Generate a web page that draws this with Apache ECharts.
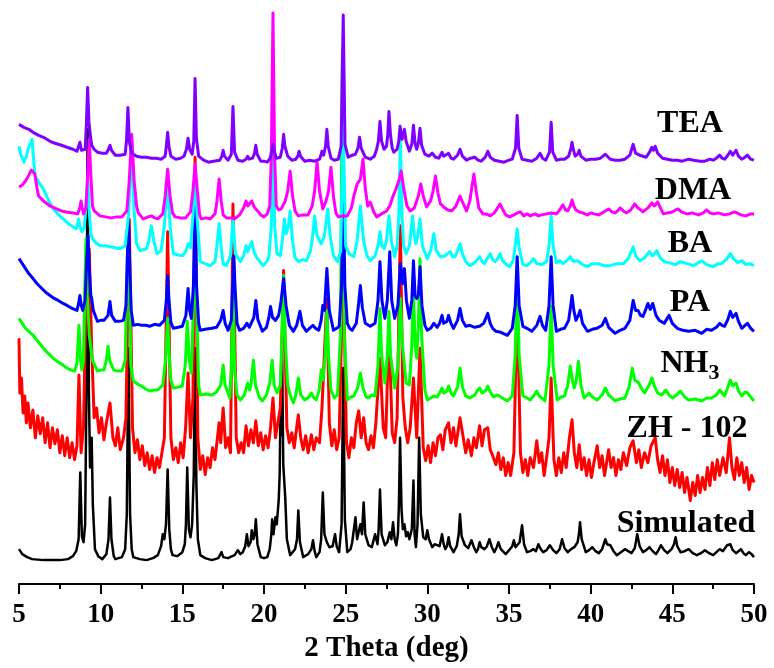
<!DOCTYPE html>
<html>
<head>
<meta charset="utf-8">
<title>PXRD patterns</title>
<script src="https://cdn.jsdelivr.net/npm/echarts@6/dist/echarts.min.js"></script>
<style>
  html, body { margin: 0; padding: 0; background: #ffffff; }
  #chart { width: 774px; height: 668px; }
</style>
</head>
<body>
<div id="chart"></div>
<script>
// Powder XRD patterns, stacked with vertical offsets (intensity in a.u.)
// Each pattern: [2 theta (deg), offset intensity]

const sampleNames = ['TEA', 'DMA', 'BA', 'PA', 'NH3', 'ZH - 102', 'Simulated'];
const sampleColors = ['#7f00ff', '#ff00ff', '#00ffff', '#0000ff', '#00ff00', '#ff0000', '#000000'];
const lineWidths = [3, 3, 3, 3, 3, 3, 2.5];
const xTicks = [5, 10, 15, 20, 25, 30, 35, 40, 45, 50];

const teaPattern = [
  [5.0,462],[5.3,459],[5.6,457],[5.86,454],[6.2,451],[6.5,449],[6.9,445],[7.2,443],[7.6,441],[7.94,439],
  [8.3,437],[8.55,435],[8.65,440],[8.73,444],[8.82,436],[9.05,437],[9.12,460],[9.2,499],[9.28,465],[9.35,454],
  [9.45,441],[9.6,437],[9.8,434],[10.1,433],[10.35,433],[10.48,437],[10.57,441],[10.66,436],[10.9,431],[11.2,431],
  [11.5,432],[11.58,445],[11.67,479],[11.76,444],[11.9,433],[12.2,430],[12.5,429],[12.8,429],[13.1,428],[13.4,428],
  [13.7,427],[13.95,430],[14.02,440],[14.1,454],[14.18,440],[14.3,430],[14.6,427],[14.9,428],[15.1,430],[15.25,437],
  [15.35,448],[15.45,437],[15.6,432],[15.7,445],[15.78,508],[15.86,448],[16.0,430],[16.3,426],[16.6,424],[16.9,425],
  [17.3,426],[17.42,430],[17.5,436],[17.58,430],[17.8,426],[18.0,432],[18.1,480],[18.2,434],[18.4,426],[18.7,425],
  [18.9,427],[19.0,430],[19.1,427],[19.3,428],[19.42,433],[19.5,441],[19.58,432],[19.8,425],[20.0,425],[20.2,424],
  [20.38,428],[20.48,436],[20.55,442],[20.62,436],[20.75,428],[21.0,429],[21.12,438],[21.2,452],[21.28,440],[21.45,430],
  [21.7,426],[21.95,427],[22.07,430],[22.15,435],[22.23,430],[22.5,425],[22.8,426],[23.1,425],[23.4,427],[23.5,432],
  [23.55,435],[23.65,431],[23.77,440],[23.85,457],[23.93,440],[24.1,428],[24.3,426],[24.55,427],[24.72,440],[24.85,572],
  [24.96,442],[25.15,429],[25.4,431],[25.6,432],[25.75,438],[25.85,449],[25.95,438],[26.2,429],[26.5,427],[26.75,430],
  [26.9,437],[27.0,445],[27.1,465],[27.2,445],[27.35,437],[27.5,440],[27.58,452],[27.65,475],[27.74,452],[27.85,438],
  [27.95,434],[28.15,437],[28.25,445],[28.33,460],[28.45,447],[28.6,457],[28.7,445],[28.9,435],[29.05,442],[29.15,461],
  [29.25,443],[29.35,437],[29.45,443],[29.55,458],[29.65,441],[29.85,432],[30.1,430],[30.3,433],[30.5,429],[30.7,428],
  [30.9,434],[31.0,430],[31.1,429],[31.3,433],[31.45,428],[31.6,427],[31.85,431],[32.0,437],[32.15,430],[32.4,426],
  [32.65,428],[32.9,429],[33.1,426],[33.3,425],[33.55,429],[33.7,435],[33.85,429],[34.1,426],[34.4,425],[34.7,424],
  [35.0,426],[35.2,427],[35.4,438],[35.5,471],[35.6,438],[35.8,427],[36.1,426],[36.4,425],[36.7,428],[36.9,433],
  [37.05,428],[37.25,426],[37.48,434],[37.58,464],[37.68,434],[37.9,426],[38.15,427],[38.4,427],[38.65,430],[38.78,437],
  [38.86,444],[38.95,436],[39.05,430],[39.2,432],[39.3,436],[39.4,430],[39.7,426],[40.0,427],[40.3,427],[40.6,428],
  [40.9,432],[41.2,427],[41.5,426],[41.8,426],[42.1,427],[42.4,431],[42.6,442],[42.75,433],[43.0,431],[43.2,430],
  [43.4,429],[43.6,434],[43.75,439],[43.85,436],[43.95,440],[44.1,433],[44.4,428],[44.7,427],[45.0,426],[45.3,426],
  [45.6,425],[46.0,427],[46.3,426],[46.7,425],[47.0,425],[47.3,427],[47.5,426],[47.7,428],[47.9,431],[48.05,428],
  [48.2,427],[48.4,431],[48.55,435],[48.7,431],[48.9,436],[49.05,430],[49.25,427],[49.45,429],[49.6,431],[49.8,427],
  [50.0,426]
];

const dmaPattern = [
  [5.0,399],[5.2,401],[5.4,405],[5.6,411],[5.75,416],[5.86,417],[5.97,412],[6.1,398],[6.2,390],[6.5,385],
  [6.9,380],[7.3,377],[7.6,375],[7.9,374],[8.3,373],[8.6,372],[8.72,378],[8.8,385],[8.88,377],[8.95,372],
  [9.1,378],[9.2,410],[9.3,447],[9.4,410],[9.5,380],[9.6,375],[9.96,370],[10.3,369],[10.6,368],[11.0,369],
  [11.3,369],[11.6,375],[11.75,405],[11.9,452],[12.05,405],[12.2,380],[12.3,373],[12.6,367],[12.9,369],[13.1,370],
  [13.3,368],[13.5,367],[13.8,372],[13.95,390],[14.1,417],[14.25,390],[14.4,373],[14.55,369],[14.9,368],[15.2,368],
  [15.5,374],[15.65,395],[15.78,422],[15.92,395],[16.05,372],[16.15,367],[16.45,368],[16.7,367],[17.0,372],[17.12,385],
  [17.25,407],[17.38,385],[17.5,371],[17.7,368],[18.0,368],[18.2,367],[18.5,371],[18.75,378],[18.9,385],[19.0,380],
  [19.1,379],[19.25,385],[19.4,379],[19.6,375],[19.8,371],[20.0,369],[20.2,372],[20.35,380],[20.45,430],[20.55,574],
  [20.65,430],[20.75,380],[20.9,376],[21.05,377],[21.3,385],[21.45,395],[21.6,415],[21.75,390],[21.9,375],[22.1,370],
  [22.4,371],[22.7,371],[22.95,380],[23.1,395],[23.25,424],[23.4,395],[23.6,377],[23.8,385],[23.95,395],[24.1,419],
  [24.25,390],[24.4,373],[24.55,369],[24.8,370],[25.1,370],[25.35,378],[25.5,390],[25.7,402],[25.9,407],[26.06,427],
  [26.2,398],[26.35,380],[26.5,384],[26.6,382],[26.75,373],[26.9,369],[27.2,372],[27.5,375],[27.7,380],[27.9,390],
  [28.1,398],[28.25,405],[28.4,415],[28.55,398],[28.75,380],[28.95,375],[29.2,378],[29.45,390],[29.6,402],[29.75,390],
  [29.95,379],[30.2,385],[30.35,395],[30.5,410],[30.65,393],[30.8,382],[31.0,379],[31.25,376],[31.5,375],[31.75,380],
  [31.9,386],[32.0,390],[32.15,384],[32.4,375],[32.6,385],[32.72,398],[32.85,412],[32.98,396],[33.15,378],[33.4,372],
  [33.6,372],[33.85,370],[34.1,373],[34.3,378],[34.45,382],[34.6,377],[34.8,371],[35.05,369],[35.3,371],[35.5,373],
  [35.7,374],[35.9,370],[36.1,372],[36.3,370],[36.6,372],[36.8,370],[37.0,371],[37.3,372],[37.6,373],[37.9,372],
  [38.1,376],[38.3,381],[38.45,376],[38.6,375],[38.75,380],[38.86,386],[38.97,380],[39.1,376],[39.3,374],[39.5,373],
  [39.8,371],[40.0,373],[40.2,372],[40.5,371],[40.8,374],[41.1,377],[41.3,374],[41.5,373],[41.65,375],[41.8,378],
  [42.0,375],[42.2,373],[42.45,376],[42.7,382],[42.9,378],[43.2,374],[43.5,378],[43.75,383],[43.9,380],[44.1,384],
  [44.3,377],[44.45,372],[44.7,373],[45.0,374],[45.2,376],[45.35,377],[45.55,374],[45.9,372],[46.2,373],[46.6,371],
  [46.9,373],[47.1,376],[47.3,373],[47.5,372],[47.8,373],[48.0,372],[48.2,371],[48.5,372],[48.8,374],[48.95,373],
  [49.2,371],[49.5,370],[49.8,372],[50.0,372]
];

const baPattern = [
  [5.0,440],[5.1,432],[5.2,428],[5.3,424],[5.45,430],[5.55,437],[5.7,443],[5.8,447],[5.88,430],[5.95,415],
  [6.0,410],[6.2,404],[6.5,397],[6.8,386],[7.1,377],[7.5,370],[7.9,364],[8.2,360],[8.5,357],[8.6,363],
  [8.65,367],[8.72,360],[8.85,354],[9.0,358],[9.1,380],[9.2,407],[9.3,375],[9.4,352],[9.5,347],[9.7,343],
  [9.96,340],[10.3,340],[10.6,339],[10.9,338],[11.2,337],[11.5,340],[11.7,370],[11.9,437],[12.05,375],[12.2,342],
  [12.4,335],[12.6,336],[12.8,337],[12.95,345],[13.1,360],[13.25,345],[13.45,332],[13.7,335],[13.9,360],[14.1,407],
  [14.25,360],[14.45,332],[14.7,331],[15.0,330],[15.2,334],[15.35,342],[15.5,338],[15.65,370],[15.78,412],[15.92,365],
  [16.1,324],[16.4,322],[16.7,320],[17.0,324],[17.12,340],[17.25,362],[17.38,338],[17.5,322],[17.7,320],[17.95,330],
  [18.1,367],[18.25,332],[18.55,324],[18.75,330],[18.9,340],[19.0,334],[19.1,332],[19.25,344],[19.4,333],[19.6,327],
  [19.95,320],[20.2,325],[20.3,329],[20.45,360],[20.55,487],[20.65,360],[20.8,332],[21.0,330],[21.12,345],[21.25,367],
  [21.35,352],[21.4,352],[21.5,360],[21.6,375],[21.75,345],[21.9,328],[22.1,324],[22.35,326],[22.6,325],[22.85,335],
  [22.98,350],[23.1,370],[23.25,350],[23.5,342],[23.7,350],[23.9,377],[24.05,350],[24.25,330],[24.5,324],[24.7,335],
  [24.85,462],[25.0,340],[25.2,332],[25.5,329],[25.7,345],[25.9,380],[26.1,345],[26.3,330],[26.5,325],[26.8,330],
  [26.98,340],[27.1,354],[27.22,340],[27.35,337],[27.5,345],[27.65,370],[27.8,345],[28.0,329],[28.15,340],[28.25,370],
  [28.35,447],[28.45,370],[28.55,340],[28.7,332],[28.9,340],[29.1,370],[29.2,350],[29.3,342],[29.42,350],[29.55,367],
  [29.7,340],[30.0,327],[30.2,335],[30.4,352],[30.55,335],[30.8,329],[31.1,330],[31.4,334],[31.55,329],[31.7,329],
  [31.85,335],[32.0,342],[32.15,332],[32.35,324],[32.6,320],[32.9,323],[33.2,329],[33.35,324],[33.5,322],[33.7,328],
  [33.85,332],[34.0,326],[34.15,324],[34.3,327],[34.45,332],[34.6,325],[34.85,321],[35.05,319],[35.25,325],[35.38,340],
  [35.5,357],[35.62,338],[35.85,321],[36.1,320],[36.3,323],[36.5,327],[36.7,322],[37.0,321],[37.3,324],[37.45,340],
  [37.58,370],[37.7,340],[37.9,323],[38.1,325],[38.3,322],[38.55,325],[38.75,329],[38.95,324],[39.2,325],[39.5,321],
  [39.8,319],[40.1,322],[40.5,322],[40.8,320],[41.2,320],[41.6,322],[42.0,322],[42.3,327],[42.45,333],[42.6,339],
  [42.75,330],[43.0,325],[43.3,328],[43.6,334],[43.8,330],[44.05,335],[44.25,328],[44.5,324],[44.8,323],[45.2,321],
  [45.5,324],[45.9,322],[46.3,320],[46.8,325],[47.1,321],[47.5,319],[47.8,322],[48.0,322],[48.3,326],[48.55,332],
  [48.75,327],[49.0,323],[49.25,325],[49.5,321],[49.75,322],[50.0,320]
];

const paPattern = [
  [5.0,327],[5.2,322],[5.4,317],[5.6,312],[5.86,307],[6.1,302],[6.4,297],[6.65,293],[6.9,290],[7.15,287],
  [7.4,285],[7.7,282],[7.94,280],[8.25,277],[8.55,275],[8.65,282],[8.73,290],[8.81,280],[8.9,275],[9.05,285],
  [9.13,320],[9.22,350],[9.31,315],[9.4,290],[9.45,287],[9.55,275],[9.8,264],[10.0,265],[10.2,265],[10.45,270],
  [10.57,284],[10.67,270],[10.9,264],[11.15,264],[11.4,265],[11.55,280],[11.62,320],[11.7,367],[11.78,320],[11.87,275],
  [12.0,260],[12.25,261],[12.5,260],[12.75,260],[13.0,259],[13.3,261],[13.6,260],[13.9,265],[14.02,285],[14.1,310],
  [14.18,285],[14.3,263],[14.45,257],[14.75,258],[15.0,259],[15.22,270],[15.35,297],[15.45,275],[15.55,267],[15.68,300],
  [15.78,382],[15.87,300],[16.0,262],[16.1,255],[16.4,256],[16.8,257],[17.1,258],[17.35,265],[17.5,275],[17.62,262],
  [17.8,255],[18.0,265],[18.08,300],[18.15,330],[18.23,298],[18.35,262],[18.5,255],[18.75,257],[18.95,262],[19.1,258],
  [19.2,257],[19.38,268],[19.5,285],[19.62,266],[19.9,254],[20.15,258],[20.3,268],[20.4,279],[20.52,268],[20.7,265],
  [20.9,270],[21.05,285],[21.2,307],[21.35,280],[21.55,260],[21.8,254],[22.0,260],[22.2,274],[22.35,260],[22.6,254],
  [22.85,258],[23.0,260],[23.15,257],[23.35,255],[23.5,265],[23.6,280],[23.7,275],[23.85,317],[24.0,275],[24.25,255],
  [24.45,257],[24.6,259],[24.75,300],[24.85,407],[24.95,300],[25.1,262],[25.25,257],[25.4,255],[25.65,262],[25.78,280],
  [25.9,300],[26.02,278],[26.2,262],[26.5,259],[26.8,262],[26.98,285],[27.1,324],[27.22,285],[27.4,267],[27.55,285],
  [27.7,334],[27.82,285],[28.0,267],[28.2,280],[28.35,322],[28.5,302],[28.6,317],[28.72,285],[28.9,267],[29.05,285],
  [29.15,325],[29.25,290],[29.35,287],[29.45,290],[29.55,319],[29.67,280],[29.85,260],[30.0,255],[30.2,257],[30.4,262],
  [30.6,258],[30.75,262],[30.9,270],[31.0,262],[31.1,260],[31.2,264],[31.3,270],[31.45,262],[31.6,257],[31.85,265],
  [32.0,277],[32.15,265],[32.35,259],[32.6,260],[32.9,258],[33.2,259],[33.45,262],[33.7,272],[33.85,262],[34.0,257],
  [34.2,254],[34.5,253],[34.9,250],[35.2,257],[35.38,280],[35.5,329],[35.62,280],[35.85,259],[36.1,257],[36.4,254],
  [36.7,260],[36.9,269],[37.05,260],[37.25,255],[37.45,280],[37.58,329],[37.7,280],[37.9,254],[38.15,256],[38.4,257],
  [38.65,265],[38.78,280],[38.86,290],[38.97,275],[39.1,265],[39.25,270],[39.35,275],[39.5,262],[39.8,254],[40.1,256],
  [40.4,257],[40.7,260],[40.9,267],[41.1,258],[41.5,252],[41.8,255],[42.1,257],[42.4,265],[42.6,285],[42.75,275],
  [42.9,275],[43.05,270],[43.2,269],[43.35,275],[43.5,282],[43.65,276],[43.8,282],[44.0,270],[44.2,265],[44.5,262],
  [44.8,270],[45.0,262],[45.3,257],[45.65,255],[46.0,254],[46.4,255],[46.8,252],[47.1,256],[47.4,255],[47.7,258],
  [47.9,262],[48.05,260],[48.2,259],[48.4,266],[48.55,274],[48.7,268],[48.9,272],[49.05,264],[49.25,257],[49.45,260],
  [49.6,262],[49.8,257],[50.0,254]
];

const nh3Pattern = [
  [5.0,267],[5.2,262],[5.4,257],[5.6,254],[5.86,250],[6.1,245],[6.4,239],[6.65,234],[6.9,230],[7.15,226],
  [7.4,223],[7.7,220],[7.94,217],[8.2,215],[8.4,214],[8.55,222],[8.67,260],[8.77,225],[8.85,215],[8.95,225],
  [9.02,290],[9.1,347],[9.18,290],[9.3,250],[9.4,237],[9.5,225],[9.8,214],[10.0,215],[10.2,215],[10.35,225],
  [10.45,239],[10.55,225],[10.8,215],[11.05,214],[11.3,214],[11.5,225],[11.6,300],[11.67,360],[11.75,300],[11.85,220],
  [12.0,204],[12.25,201],[12.5,199],[12.75,196],[13.0,194],[13.25,195],[13.5,195],[13.8,200],[13.97,225],[14.1,267],
  [14.2,230],[14.3,205],[14.45,197],[14.75,198],[15.0,199],[15.18,220],[15.3,264],[15.42,225],[15.55,212],[15.68,280],
  [15.78,357],[15.88,280],[16.0,200],[16.1,190],[16.45,191],[16.8,190],[17.1,193],[17.35,200],[17.5,220],[17.62,200],
  [17.9,187],[18.0,215],[18.1,307],[18.2,215],[18.35,190],[18.55,185],[18.8,190],[19.0,202],[19.12,195],[19.2,200],
  [19.35,225],[19.48,200],[19.7,188],[19.9,184],[20.15,190],[20.35,202],[20.5,225],[20.62,200],[20.8,192],[21.0,200],
  [21.1,250],[21.2,310],[21.3,245],[21.45,200],[21.6,190],[21.8,182],[21.95,190],[22.1,207],[22.25,190],[22.5,185],
  [22.75,188],[22.9,192],[23.05,187],[23.2,185],[23.38,195],[23.5,215],[23.62,205],[23.75,230],[23.85,275],[23.95,230],
  [24.1,195],[24.3,187],[24.5,190],[24.68,250],[24.8,537],[24.92,250],[25.1,185],[25.3,188],[25.5,189],[25.75,198],
  [25.9,212],[26.05,198],[26.25,188],[26.4,187],[26.6,190],[26.8,189],[26.98,220],[27.1,277],[27.2,230],[27.4,202],
  [27.55,230],[27.65,274],[27.75,230],[28.0,197],[28.2,220],[28.35,287],[28.48,240],[28.7,202],[28.9,200],[29.05,240],
  [29.15,297],[29.25,240],[29.35,227],[29.45,260],[29.55,327],[29.65,250],[29.85,195],[30.0,185],[30.2,187],[30.4,189],
  [30.6,188],[30.75,192],[30.9,197],[31.0,192],[31.1,190],[31.2,194],[31.3,199],[31.45,192],[31.6,189],[31.85,198],
  [32.0,217],[32.15,198],[32.35,189],[32.6,187],[32.9,190],[33.05,194],[33.2,197],[33.35,192],[33.45,190],[33.6,195],
  [33.7,199],[33.85,193],[34.05,188],[34.3,190],[34.6,187],[34.9,184],[35.2,189],[35.38,230],[35.5,317],[35.62,230],
  [35.85,189],[36.1,187],[36.3,185],[36.55,190],[36.7,194],[36.85,189],[37.2,184],[37.45,220],[37.58,279],[37.7,220],
  [37.95,185],[38.2,188],[38.4,189],[38.6,200],[38.75,219],[38.88,205],[39.0,197],[39.12,205],[39.25,224],[39.4,200],
  [39.6,187],[39.9,192],[40.1,188],[40.4,185],[40.7,190],[40.9,197],[41.1,190],[41.5,184],[41.8,186],[42.1,187],
  [42.35,198],[42.55,217],[42.7,205],[42.95,202],[43.1,197],[43.3,192],[43.55,199],[43.75,207],[43.9,199],[44.1,192],
  [44.35,190],[44.6,195],[44.8,190],[45.0,187],[45.25,190],[45.5,194],[45.75,188],[46.0,185],[46.4,186],[46.8,184],
  [47.1,187],[47.4,187],[47.7,190],[47.9,195],[48.05,192],[48.2,189],[48.4,198],[48.55,205],[48.7,199],[48.9,202],
  [49.05,194],[49.25,189],[49.45,193],[49.6,192],[49.8,188],[50.0,184]
];

const zh102Pattern = [
  [5.0,247],[5.05,192],[5.15,207],[5.25,172],[5.35,189],[5.45,162],[5.55,182],[5.7,157],[5.85,175],[6.0,147],
  [6.15,169],[6.3,151],[6.45,167],[6.6,142],[6.75,162],[6.9,137],[7.05,157],[7.2,141],[7.35,155],[7.5,132],
  [7.65,149],[7.8,129],[7.95,147],[8.1,127],[8.25,142],[8.4,125],[8.55,139],[8.67,210],[8.8,132],[8.95,157],
  [9.1,287],[9.3,337],[9.45,237],[9.6,167],[9.75,177],[9.9,152],[10.05,167],[10.2,145],[10.35,162],[10.57,182],
  [10.75,147],[10.9,139],[11.05,157],[11.2,135],[11.4,147],[11.55,167],[11.75,367],[11.95,157],[12.1,132],[12.25,145],
  [12.4,125],[12.55,139],[12.7,119],[12.85,132],[13.0,115],[13.15,129],[13.3,112],[13.45,127],[13.6,117],[13.75,132],
  [13.9,147],[14.1,354],[14.3,147],[14.45,125],[14.6,137],[14.75,122],[14.9,142],[15.05,127],[15.2,157],[15.35,212],
  [15.5,147],[15.65,187],[15.78,429],[15.95,147],[16.1,115],[16.25,129],[16.4,110],[16.55,127],[16.7,117],[16.85,137],
  [17.0,125],[17.15,147],[17.25,162],[17.35,142],[17.5,177],[17.65,137],[17.8,147],[17.95,132],[18.1,382],[18.3,147],
  [18.45,132],[18.6,142],[18.75,132],[18.9,159],[19.05,139],[19.2,155],[19.35,142],[19.5,164],[19.65,139],[19.8,152],
  [19.95,135],[20.1,149],[20.25,137],[20.4,157],[20.55,187],[20.7,147],[20.85,162],[21.0,177],[21.2,315],[21.4,157],
  [21.55,142],[21.7,152],[21.85,137],[22.0,157],[22.1,170],[22.25,147],[22.4,135],[22.55,149],[22.7,132],[22.9,150],
  [23.05,135],[23.2,147],[23.4,142],[23.55,177],[23.85,287],[24.0,162],[24.15,139],[24.3,155],[24.45,135],[24.6,147],
  [24.85,327],[25.05,142],[25.2,127],[25.35,147],[25.5,137],[25.65,162],[25.8,174],[25.95,147],[26.1,167],[26.25,142],
  [26.4,135],[26.55,149],[26.7,137],[26.85,162],[27.1,227],[27.3,157],[27.45,147],[27.65,257],[27.85,152],[28.0,142],
  [28.15,167],[28.35,360],[28.5,187],[28.65,157],[28.8,142],[28.95,157],[29.15,207],[29.35,147],[29.55,237],[29.75,137],
  [29.9,124],[30.05,139],[30.2,122],[30.35,142],[30.5,129],[30.65,147],[30.8,150],[30.95,135],[31.1,155],[31.3,162],
  [31.45,142],[31.6,157],[31.75,139],[32.0,167],[32.2,147],[32.35,132],[32.5,145],[32.7,129],[32.85,147],[33.0,137],
  [33.2,159],[33.35,139],[33.5,155],[33.7,157],[33.85,135],[34.0,129],[34.2,120],[34.35,132],[34.5,115],[34.65,127],
  [34.8,109],[34.95,122],[35.1,109],[35.3,132],[35.5,287],[35.7,132],[35.85,112],[36.0,125],[36.15,109],[36.3,127],
  [36.5,117],[36.7,144],[36.85,122],[37.0,132],[37.15,109],[37.3,127],[37.45,147],[37.58,207],[37.75,125],[37.9,109],
  [38.05,127],[38.2,112],[38.35,132],[38.5,117],[38.7,147],[38.86,165],[39.0,132],[39.15,117],[39.3,140],[39.45,115],
  [39.6,127],[39.75,109],[39.9,125],[40.05,107],[40.2,122],[40.4,139],[40.55,117],[40.7,129],[40.85,109],[41.1,135],
  [41.25,117],[41.4,127],[41.55,109],[41.7,125],[41.85,115],[42.0,132],[42.2,119],[42.4,137],[42.6,144],[42.8,122],
  [42.95,135],[43.1,117],[43.3,132],[43.5,122],[43.7,139],[43.95,147],[44.1,125],[44.25,112],[44.4,129],[44.55,109],
  [44.7,125],[44.85,102],[45.0,117],[45.15,99],[45.3,115],[45.45,97],[45.6,112],[45.75,92],[45.9,107],[46.1,84],
  [46.25,102],[46.4,89],[46.55,109],[46.7,92],[46.85,107],[47.0,95],[47.15,117],[47.3,99],[47.45,122],[47.6,105],
  [47.75,125],[47.9,109],[48.1,127],[48.3,112],[48.5,147],[48.65,117],[48.8,105],[48.95,127],[49.1,109],[49.25,122],
  [49.4,102],[49.55,117],[49.7,95],[49.85,109],[50.0,102]
];

const simulatedPattern = [
  [5.0,35],[5.2,30],[5.5,27],[5.8,25],[6.5,24],[7.5,24],[8.0,25],[8.3,28],[8.5,33],[8.65,45],
  [8.75,112],[8.85,48],[8.95,42],[9.05,60],[9.12,180],[9.2,457],[9.28,190],[9.35,117],[9.4,125],[9.45,147],
  [9.52,80],[9.65,35],[9.85,28],[10.1,25],[10.35,30],[10.48,45],[10.57,87],[10.66,45],[10.8,28],[10.9,25],
  [11.3,27],[11.5,35],[11.6,70],[11.7,237],[11.8,70],[11.9,35],[12.0,27],[12.4,25],[12.8,24],[13.2,26],
  [13.5,29],[13.7,38],[13.8,50],[13.9,45],[14.0,60],[14.1,115],[14.2,55],[14.3,35],[14.4,29],[14.7,28],
  [15.0,32],[15.15,40],[15.22,60],[15.3,117],[15.4,55],[15.5,47],[15.6,60],[15.7,110],[15.78,237],[15.86,100],
  [15.95,45],[16.1,29],[16.4,26],[16.8,24],[17.2,26],[17.4,32],[17.5,27],[17.6,25],[17.8,26],[17.9,27],
  [18.05,28],[18.2,29],[18.3,30],[18.4,34],[18.55,30],[18.7,32],[18.85,38],[18.95,50],[19.05,38],[19.1,37],
  [19.18,42],[19.25,54],[19.35,45],[19.43,50],[19.5,65],[19.6,40],[19.8,27],[20.0,26],[20.2,27],[20.35,35],
  [20.45,50],[20.5,65],[20.58,50],[20.6,52],[20.7,67],[20.78,60],[20.9,84],[20.96,110],[21.0,167],[21.05,150],
  [21.1,247],[21.18,120],[21.3,87],[21.4,45],[21.6,29],[21.9,35],[22.02,45],[22.1,74],[22.2,42],[22.4,27],
  [22.7,30],[22.9,35],[23.0,44],[23.1,33],[23.2,27],[23.4,32],[23.5,45],[23.6,92],[23.7,50],[23.85,42],
  [24.0,37],[24.2,38],[24.35,50],[24.45,38],[24.6,32],[24.75,60],[24.85,217],[24.95,65],[25.1,32],[25.3,35],
  [25.4,42],[25.5,40],[25.6,67],[25.7,45],[25.8,47],[25.9,60],[26.0,50],[26.1,82],[26.2,50],[26.4,39],
  [26.6,37],[26.8,50],[26.95,40],[27.02,55],[27.1,95],[27.2,50],[27.4,39],[27.55,42],[27.7,52],[27.8,45],
  [27.9,62],[28.0,45],[28.1,39],[28.2,50],[28.26,80],[28.33,147],[28.42,75],[28.5,55],[28.6,60],[28.7,48],
  [28.8,52],[28.9,45],[29.05,55],[29.15,104],[29.22,50],[29.3,37],[29.4,60],[29.5,147],[29.6,70],[29.75,47],
  [29.9,45],[30.0,54],[30.1,45],[30.3,37],[30.45,40],[30.6,39],[30.75,38],[30.9,50],[31.0,40],[31.1,35],
  [31.2,38],[31.3,47],[31.4,38],[31.6,32],[31.8,38],[31.92,50],[32.0,70],[32.1,48],[32.3,39],[32.5,36],
  [32.7,44],[32.85,37],[33.0,32],[33.1,35],[33.2,42],[33.3,37],[33.5,35],[33.65,38],[33.8,45],[33.95,37],
  [34.1,32],[34.25,37],[34.35,42],[34.5,35],[34.8,30],[35.05,35],[35.2,38],[35.3,44],[35.4,37],[35.5,37],
  [35.65,42],[35.8,59],[35.92,40],[36.1,32],[36.3,33],[36.5,35],[36.65,33],[36.8,40],[36.95,35],[37.1,32],
  [37.3,34],[37.5,39],[37.7,34],[37.9,31],[38.1,35],[38.25,45],[38.4,36],[38.6,32],[38.8,35],[39.0,37],
  [39.2,42],[39.28,50],[39.35,62],[39.45,45],[39.7,32],[39.9,34],[40.1,37],[40.3,33],[40.5,31],[40.7,35],
  [40.9,45],[41.0,40],[41.2,39],[41.4,33],[41.6,29],[41.85,32],[42.1,35],[42.3,33],[42.5,31],[42.7,36],
  [42.85,50],[43.0,38],[43.2,32],[43.4,34],[43.6,37],[43.8,33],[44.0,30],[44.15,34],[44.3,39],[44.5,34],
  [44.7,31],[44.95,35],[45.1,40],[45.2,47],[45.3,38],[45.5,32],[45.75,33],[46.0,35],[46.25,31],[46.5,29],
  [46.75,31],[47.0,34],[47.25,31],[47.5,29],[47.7,32],[47.9,35],[48.1,33],[48.35,39],[48.45,37],[48.55,40],
  [48.7,34],[48.9,31],[49.05,33],[49.2,35],[49.35,31],[49.5,29],[49.7,32],[49.85,30],[50.0,27]
];

const patterns = [teaPattern, dmaPattern, baPattern, paPattern, nh3Pattern, zh102Pattern, simulatedPattern];

const chart = echarts.init(document.getElementById('chart'), null, { renderer: 'canvas' });

const serifBold = { fontFamily: 'Liberation Serif', fontWeight: 'bold', color: '#000' };

// Trace captions, placed to the right above each trace
const captionSpots = [
  { x: 690, y: 124 }, { x: 693, y: 191 }, { x: 690, y: 244 }, { x: 690, y: 303 },
  { x: 690, y: 364 }, { x: 687, y: 429 }, { x: 686, y: 524 }
];

const captions = sampleNames.map((name, i) => {
  const isNH3 = name === 'NH3';
  return {
    type: 'text',
    x: captionSpots[i].x,
    y: captionSpots[i].y,
    z: 100,
    style: {
      text: isNH3 ? '{b|NH}{s|3}' : name,
      fill: '#000',
      font: 'bold 32px "Liberation Serif"',
      textAlign: 'center',
      textVerticalAlign: 'middle',
      rich: isNH3 ? {
        b: { fontSize: 32, fontWeight: 'bold', fontFamily: 'Liberation Serif', lineHeight: 32 },
        s: { fontSize: 22, fontWeight: 'bold', fontFamily: 'Liberation Serif', lineHeight: 32, padding: [18, 0, 0, 0] }
      } : undefined
    }
  };
});

chart.setOption({
  animation: false,
  backgroundColor: '#ffffff',
  grid: { left: 19, right: 20, top: 0, bottom: 81, containLabel: false },
  xAxis: {
    type: 'value',
    min: xTicks[0],
    max: xTicks[xTicks.length - 1],
    interval: 5,
    name: '2 Theta (deg)',
    nameLocation: 'middle',
    nameGap: 50,
    nameTextStyle: Object.assign({ fontSize: 29 }, serifBold),
    axisLine: { show: true, onZero: false, lineStyle: { color: '#000', width: 2 } },
    axisTick: { show: true, inside: false, length: 10, lineStyle: { color: '#000', width: 2 } },
    minorTick: { show: true, splitNumber: 2, length: 5, lineStyle: { color: '#000', width: 2 } },
    axisLabel: Object.assign({ fontSize: 27, margin: 18, showMinLabel: true, showMaxLabel: true }, serifBold),
    splitLine: { show: false }
  },
  yAxis: {
    type: 'value',
    min: 0,
    max: 587,
    show: false
  },
  // The simulated pattern sits underneath; the upper traces are painted over it
  series: patterns.map((data, i) => ({
    name: sampleNames[i],
    type: 'line',
    data: data,
    showSymbol: false,
    symbol: 'none',
    smooth: false,
    clip: false,
    lineStyle: { color: sampleColors[i], width: lineWidths[i], join: 'round' },
    z: 2 + (patterns.length - 1 - i)
  })),
  graphic: captions
});
</script>
</body>
</html>
